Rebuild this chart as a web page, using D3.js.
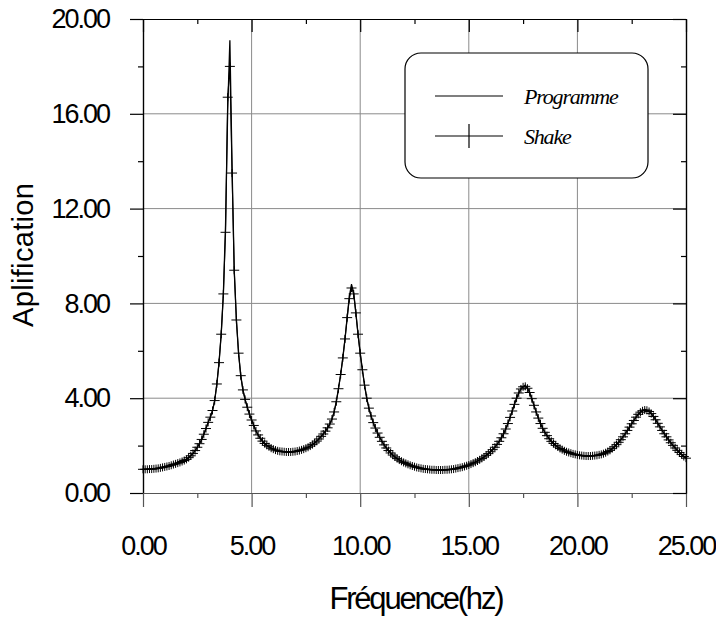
<!DOCTYPE html>
<html>
<head>
<meta charset="utf-8">
<script src="https://cdn.jsdelivr.net/npm/d3@7"></script>
<style>
  body { margin: 0; background: #fff; }
  .tick text { font-family: "Liberation Sans", Arial, sans-serif; font-size: 27px; letter-spacing: -2px; fill: #000; }
</style>
</head>
<body>
<div id="chart"></div>
<script>
// frequency grid (Hz) and amplification values
const freqStep = 0.1;

const shake = [
  1.00,1.00,1.00,1.01,1.01,1.02,1.03,1.04,1.06,1.08,
  1.10,1.12,1.14,1.17,1.20,1.23,1.26,1.29,1.33,1.37,
  1.42,1.49,1.57,1.67,1.79,1.93,2.08,2.26,2.48,2.72,
  2.98,3.20,3.48,3.90,4.60,5.50,6.70,8.40,11.0,16.7,
  18.0,13.5,9.40,7.30,5.90,4.95,4.35,3.95,3.62,3.33,
  3.08,2.85,2.62,2.45,2.31,2.19,2.09,2.01,1.95,1.89,
  1.85,1.81,1.78,1.76,1.75,1.74,1.73,1.73,1.73,1.74,
  1.75,1.77,1.79,1.82,1.85,1.89,1.93,1.98,2.04,2.11,
  2.19,2.28,2.39,2.49,2.61,2.75,2.91,3.12,3.42,3.85,
  4.40,5.00,5.70,6.50,7.40,8.20,8.65,8.40,7.60,6.70,
  5.90,5.20,4.55,4.00,3.58,3.25,2.97,2.74,2.53,2.35,
  2.18,2.03,1.90,1.79,1.69,1.60,1.52,1.45,1.39,1.34,
  1.29,1.25,1.21,1.17,1.14,1.11,1.08,1.06,1.04,1.02,
  1.01,1.00,0.99,0.98,0.98,0.97,0.97,0.97,0.97,0.98,
  0.98,0.99,1.00,1.01,1.03,1.05,1.07,1.09,1.12,1.15,
  1.18,1.22,1.26,1.30,1.35,1.40,1.46,1.52,1.59,1.66,
  1.74,1.83,1.93,2.05,2.18,2.33,2.50,2.70,2.93,3.19,
  3.46,3.74,4.00,4.22,4.39,4.48,4.50,4.42,4.24,3.98,
  3.70,3.42,3.16,2.93,2.73,2.56,2.42,2.29,2.18,2.09,
  2.01,1.94,1.88,1.83,1.78,1.74,1.71,1.68,1.65,1.63,
  1.61,1.59,1.58,1.57,1.56,1.56,1.56,1.57,1.58,1.59,
  1.61,1.63,1.66,1.70,1.75,1.80,1.87,1.95,2.04,2.14,
  2.25,2.37,2.50,2.64,2.78,2.92,3.06,3.20,3.32,3.41,
  3.47,3.50,3.49,3.44,3.35,3.23,3.09,2.94,2.79,2.64,
  2.50,2.37,2.24,2.12,2.01,1.90,1.80,1.71,1.62,1.54,
  1.47
];

const programme = [
  1.00,1.00,1.00,1.01,1.01,1.02,1.03,1.04,1.06,1.08,
  1.10,1.12,1.14,1.17,1.20,1.23,1.26,1.29,1.33,1.37,
  1.42,1.49,1.57,1.67,1.79,1.93,2.08,2.26,2.48,2.72,
  2.98,3.20,3.48,3.90,4.60,5.50,6.70,8.40,11.3,16.2,
  19.1,13.8,9.40,7.30,5.90,4.95,4.35,3.95,3.62,3.33,
  3.08,2.85,2.62,2.45,2.31,2.19,2.09,2.01,1.95,1.89,
  1.85,1.81,1.78,1.76,1.75,1.74,1.73,1.73,1.73,1.74,
  1.75,1.77,1.79,1.82,1.85,1.89,1.93,1.98,2.04,2.11,
  2.19,2.28,2.39,2.49,2.61,2.75,2.91,3.12,3.42,3.85,
  4.40,5.00,5.70,6.50,7.40,8.30,8.80,8.45,7.60,6.70,
  5.90,5.20,4.55,4.00,3.58,3.25,2.97,2.74,2.53,2.35,
  2.18,2.03,1.90,1.79,1.69,1.60,1.52,1.45,1.39,1.34,
  1.29,1.25,1.21,1.17,1.14,1.11,1.08,1.06,1.04,1.02,
  1.01,1.00,0.99,0.98,0.98,0.97,0.97,0.97,0.97,0.98,
  0.98,0.99,1.00,1.01,1.03,1.05,1.07,1.09,1.12,1.15,
  1.18,1.22,1.26,1.30,1.35,1.40,1.46,1.52,1.59,1.66,
  1.74,1.83,1.93,2.05,2.18,2.33,2.50,2.70,2.93,3.19,
  3.46,3.74,4.00,4.22,4.39,4.48,4.55,4.42,4.24,3.98,
  3.70,3.42,3.16,2.93,2.73,2.56,2.42,2.29,2.18,2.09,
  2.01,1.94,1.88,1.83,1.78,1.74,1.71,1.68,1.65,1.63,
  1.61,1.59,1.58,1.57,1.56,1.56,1.56,1.57,1.58,1.59,
  1.61,1.63,1.66,1.70,1.75,1.80,1.87,1.95,2.04,2.14,
  2.25,2.37,2.50,2.64,2.78,2.92,3.06,3.20,3.32,3.41,
  3.47,3.53,3.49,3.44,3.35,3.23,3.09,2.94,2.79,2.64,
  2.50,2.37,2.24,2.12,2.01,1.90,1.80,1.71,1.62,1.54,
  1.47
];

const xMajor = [0, 5, 10, 15, 20, 25];
const xMinor = [2.5, 7.5, 12.5, 17.5, 22.5];
const yMajor = [0, 4, 8, 12, 16, 20];
const yMinor = [2, 6, 10, 14, 18];
const legendItems = ["Programme", "Shake"];

const W = 716, H = 621;
const M = { left: 143, right: 686, top: 19, bottom: 493 };

const x = d3.scaleLinear().domain([0, 25]).range([M.left, M.right]);
const y = d3.scaleLinear().domain([0, 20]).range([M.bottom, M.top]);
const fmt = d3.format(".2f");

const svg = d3.select("#chart")
  .append("svg")
  .attr("width", W)
  .attr("height", H)
  .style("font-family", "'Liberation Sans', Arial, sans-serif");

// grid
svg.append("g")
  .selectAll("line")
  .data(xMajor.slice(1, -1))
  .join("line")
  .attr("x1", d => x(d)).attr("x2", d => x(d))
  .attr("y1", M.top).attr("y2", M.bottom)
  .attr("stroke", "#8a8a8a").attr("stroke-width", 1);

svg.append("g")
  .selectAll("line")
  .data(yMajor.slice(1, -1))
  .join("line")
  .attr("x1", M.left).attr("x2", M.right)
  .attr("y1", d => y(d)).attr("y2", d => y(d))
  .attr("stroke", "#8a8a8a").attr("stroke-width", 1);

function styleAxis(g, color) {
  g.selectAll("path.domain").attr("stroke", color).attr("stroke-width", 1.2);
  g.selectAll(".tick line").attr("stroke", color).attr("stroke-width", 1.2);
}

// left axis, outward ticks + labels
const gLeft = svg.append("g").attr("transform", "translate(" + M.left + ",0)");
gLeft.append("g").call(d3.axisLeft(y).tickValues(yMajor).tickSize(13).tickPadding(21).tickSizeOuter(0).tickFormat(fmt));
gLeft.append("g").call(d3.axisLeft(y).tickValues(yMinor).tickSize(5).tickSizeOuter(0).tickFormat(""));
styleAxis(gLeft, "#000");

// bottom axis, outward ticks + labels
const gBottom = svg.append("g").attr("transform", "translate(0," + M.bottom + ")");
gBottom.append("g").call(d3.axisBottom(x).tickValues(xMajor).tickSize(14).tickPadding(29).tickSizeOuter(0).tickFormat(fmt));
gBottom.append("g").call(d3.axisBottom(x).tickValues(xMinor).tickSize(5).tickSizeOuter(0).tickFormat(""));
styleAxis(gBottom, "#555");

// right axis, inward ticks
const gRight = svg.append("g").attr("transform", "translate(" + M.right + ",0)");
gRight.append("g").call(d3.axisLeft(y).tickValues(yMajor).tickSize(13).tickSizeOuter(0).tickFormat(""));
gRight.append("g").call(d3.axisLeft(y).tickValues(yMinor).tickSize(5).tickSizeOuter(0).tickFormat(""));
styleAxis(gRight, "#000");

// top axis, inward ticks
const gTop = svg.append("g").attr("transform", "translate(0," + M.top + ")");
gTop.append("g").call(d3.axisBottom(x).tickValues(xMajor).tickSize(13).tickSizeOuter(0).tickFormat(""));
gTop.append("g").call(d3.axisBottom(x).tickValues(xMinor).tickSize(5).tickSizeOuter(0).tickFormat(""));
styleAxis(gTop, "#000");

// curves
const line = d3.line()
  .x((d, i) => x(i * freqStep))
  .y(d => y(d));

svg.append("path")
  .datum(programme)
  .attr("fill", "none")
  .attr("stroke", "#000")
  .attr("stroke-width", 1.3)
  .attr("d", line);

svg.append("path")
  .datum(shake)
  .attr("fill", "none")
  .attr("stroke", "#000")
  .attr("stroke-width", 1.1)
  .attr("d", line);

const plus = svg.append("g")
  .selectAll("g")
  .data(shake)
  .join("g")
  .attr("transform", (d, i) => "translate(" + x(i * freqStep) + "," + y(d) + ")");
plus.append("line").attr("x1", -5).attr("x2", 5).attr("y1", 0).attr("y2", 0)
  .attr("stroke", "#000").attr("stroke-width", 1);
plus.append("line").attr("x1", 0).attr("x2", 0).attr("y1", -4).attr("y2", 4)
  .attr("stroke", "#000").attr("stroke-width", 1);

// legend
const legend = svg.append("g").attr("transform", "translate(405,53)");
legend.append("rect")
  .attr("width", 243).attr("height", 125)
  .attr("rx", 16).attr("ry", 16)
  .attr("fill", "#fff")
  .attr("stroke", "#000").attr("stroke-width", 1.2);

legendItems.forEach((name, i) => {
  const ly = 43 + i * 40;
  legend.append("line")
    .attr("x1", 30).attr("x2", 98)
    .attr("y1", ly).attr("y2", ly)
    .attr("stroke", "#000").attr("stroke-width", 1.2);
  if (name === "Shake") {
    legend.append("line")
      .attr("x1", 64).attr("x2", 64)
      .attr("y1", ly - 12).attr("y2", ly + 12)
      .attr("stroke", "#000").attr("stroke-width", 1.2);
  }
  legend.append("text")
    .attr("x", 119).attr("y", ly + 8)
    .attr("font-family", "'Liberation Serif', 'Times New Roman', serif")
    .attr("font-style", "italic")
    .attr("font-size", 22)
    .attr("letter-spacing", -1.2)
    .text(name);
});

// axis titles
svg.append("text")
  .attr("x", 417).attr("y", 609)
  .attr("text-anchor", "middle")
  .attr("font-size", 31)
  .attr("textLength", 175)
  .text("Fréquence(hz)");

svg.append("text")
  .attr("transform", "translate(33,255) rotate(-90)")
  .attr("text-anchor", "middle")
  .attr("font-size", 29)
  .attr("textLength", 144)
  .text("Aplification");
</script>
</body>
</html>
